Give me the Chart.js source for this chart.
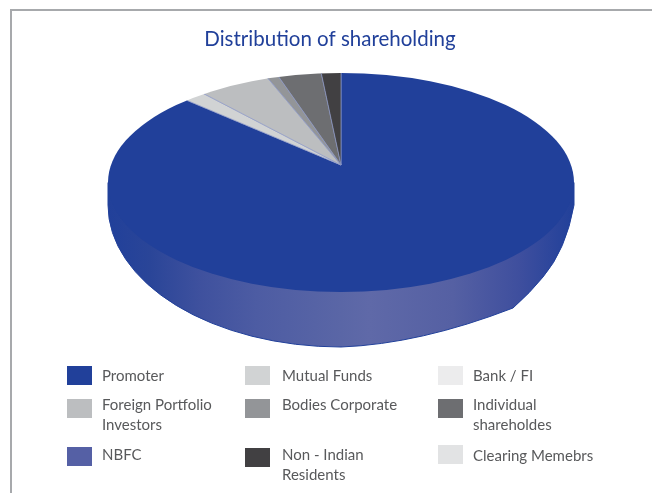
<!DOCTYPE html>
<html>
<head>
<meta charset="utf-8">
<title>Distribution of shareholding</title>
<script src="https://cdn.jsdelivr.net/npm/chart.js@4"></script>
<style>
    html, body { margin: 0; padding: 0; background: #fff; overflow: hidden; }
    #page { position: relative; width: 652px; height: 493px; overflow: hidden; }
    #frame { position: absolute; left: 10px; top: 8.5px; width: 660px; height: 500px; border: 2.5px solid #a7a9ac; box-sizing: border-box; }
    #chart { position: absolute; left: 0; top: 0; }
    .swatch { position: absolute; width: 25px; height: 19px; }
    .label { position: absolute; font: 15px Lato, sans-serif; line-height: 20px; color: #58595b; white-space: pre; }
</style>
</head>
<body>
<div id="page">
    <div id="frame"></div>
    <canvas id="chart" width="660" height="493"></canvas>
</div>
<script>
// same order as the legend (clockwise from 12 o'clock)
const categories = ['Promoter', 'Mutual Funds', 'Bank / FI', 'Foreign Portfolio\nInvestors', 'Bodies Corporate',
    'Individual\nshareholdes', 'NBFC', 'Non - Indian\nResidents', 'Clearing Memebrs'];
const shares = [86.6, 1.7, 0, 5.7, 0.9, 3.5, 0, 1.6, 0];
const colors = ['#21409a', '#d1d3d4', '#ececed', '#bcbec0', '#939598', '#6d6e71', '#5560a5', '#414042', '#e2e3e4'];

// legend cells
const legendCols = [0, 1, 2, 0, 1, 2, 0, 1, 2];
const colX = [67, 245, 438];
const textX = [102, 282, 473];
const swatchY = [366, 366, 366, 399, 399, 399, 447, 448, 445];
const textY = [365, 365, 365, 394, 394, 394, 444, 444, 445];

// disc geometry
const faceX = 341, faceY = 182.5, faceRx = 233, faceRy = 109.5;
const apexX = 341, apexY = 165;
const wallY = 205, wallRy = 142;

const page = document.getElementById('page');
categories.forEach((name, i) => {
    const sw = document.createElement('div');
    sw.className = 'swatch';
    sw.style.left = colX[legendCols[i]] + 'px';
    sw.style.top = swatchY[i] + 'px';
    sw.style.background = colors[i];
    page.appendChild(sw);
    const lb = document.createElement('div');
    lb.className = 'label';
    lb.style.left = textX[legendCols[i]] + 'px';
    lb.style.top = textY[i] + 'px';
    lb.textContent = name;
    page.appendChild(lb);
});

// squashes the pie into the tilted disc: wall first, then the face clipped to its ellipse
const tiltedDisc = {
    id: 'tiltedDisc',
    beforeDatasetsDraw(chart) {
        const ctx = chart.ctx;
        const arc = chart.getDatasetMeta(0).data[0];

        // side wall, the right side has a slight kink in the original
        const grad = ctx.createLinearGradient(faceX - faceRx, 0, faceX + faceRx, 0);
        grad.addColorStop(0, '#21409a');
        grad.addColorStop(0.09, '#2a4598');
        grad.addColorStop(0.2, '#3f519e');
        grad.addColorStop(0.32, '#4d5ca3');
        grad.addColorStop(0.5, '#5a66a6');
        grad.addColorStop(0.56, '#5f69a8');
        grad.addColorStop(0.74, '#5560a3');
        grad.addColorStop(0.88, '#3f4f9e');
        grad.addColorStop(1, '#21409a');
        ctx.save();
        ctx.beginPath();
        ctx.moveTo(faceX - faceRx, faceY);
        ctx.ellipse(faceX, wallY, faceRx, wallRy, 0, Math.PI, Math.PI / 2, true);
        ctx.quadraticCurveTo(420, 344, 513, 308);
        ctx.quadraticCurveTo(530, 293, 543, 277);
        ctx.quadraticCurveTo(566, 250, 574, 205);
        ctx.lineTo(faceX + faceRx, faceY);
        ctx.closePath();
        ctx.fillStyle = grad;
        ctx.fill();
        ctx.strokeStyle = '#21409a';
        ctx.lineWidth = 1;
        ctx.stroke();
        ctx.restore();

        // face
        ctx.save();
        ctx.beginPath();
        ctx.ellipse(faceX, faceY, faceRx, faceRy, 0, 0, Math.PI * 2);
        ctx.clip();
        const sx = faceRx * 1.25 / arc.outerRadius;
        const sy = sx * faceRy / faceRx;
        ctx.translate(apexX, apexY);
        ctx.scale(sx, sy);
        ctx.translate(-arc.x, -arc.y);
    },
    afterDatasetsDraw(chart) {
        chart.ctx.restore();
    }
};

new Chart(document.getElementById('chart'), {
    type: 'pie',
    data: {
        labels: categories,
        datasets: [{
            data: shares,
            backgroundColor: colors,
            borderColor: '#8e9ac8',
            borderWidth: c => (shares[c.dataIndex] > 0 ? 0.7 : 0)
        }]
    },
    options: {
        responsive: false,
        animation: false,
        plugins: {
            legend: { display: false },
            tooltip: { enabled: false },
            title: {
                display: true,
                text: 'Distribution of shareholding',
                color: '#21409a',
                font: { family: 'Lato, sans-serif', size: 20.5, weight: 'normal' },
                padding: { top: 27, bottom: 4 }
            }
        }
    },
    plugins: [tiltedDisc]
});
</script>
</body>
</html>
